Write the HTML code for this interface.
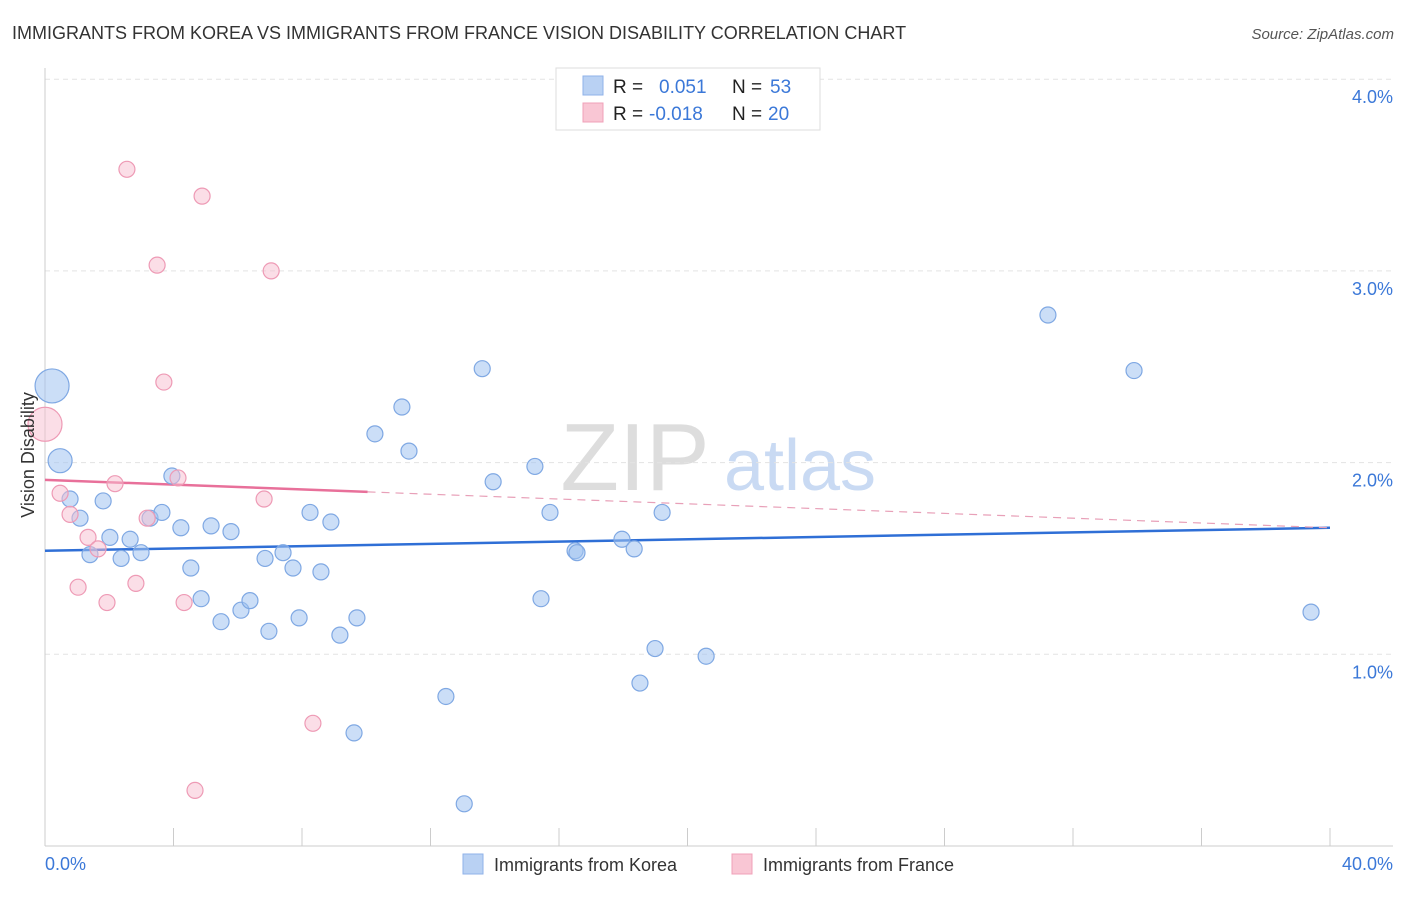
<!DOCTYPE html>
<html><head><meta charset="utf-8"><style>
body{margin:0;background:#fff;font-family:"Liberation Sans",sans-serif;}
svg text{font-family:"Liberation Sans",sans-serif;}
</style></head><body>
<svg id="chart" width="1406" height="892">
<text x="12" y="39" font-size="18" fill="#333">IMMIGRANTS FROM KOREA VS IMMIGRANTS FROM FRANCE VISION DISABILITY CORRELATION CHART</text>
<text x="1394" y="39" font-size="15" fill="#555" font-style="italic" text-anchor="end">Source: ZipAtlas.com</text>
<text x="635" y="490" font-size="96" fill="#ddd" font-family="Liberation Serif" text-anchor="middle">ZIP</text>
<text x="800" y="490" font-size="72" fill="#c9daf3" text-anchor="middle">atlas</text>
<g id="grid"></g><g id="axes"></g><g id="trend"></g><g id="pts"></g>
<text transform="translate(34,455) rotate(-90)" font-size="18" fill="#333" text-anchor="middle">Vision Disability</text>
<text x="45" y="870" font-size="18" fill="#3b78d8">0.0%</text>
<text x="1393" y="870" font-size="18" fill="#3b78d8" text-anchor="end">40.0%</text>
<g>
<rect x="556" y="68" width="264" height="62" fill="#fff" stroke="#ddd"/>
<rect x="583" y="76" width="20" height="19" fill="#b9d1f3" stroke="#8fb2e8"/>
<rect x="583" y="103" width="20" height="19" fill="#f9c6d4" stroke="#f0a0b8"/>
<text x="613" y="93" font-size="19" fill="#222">R =</text><text x="659" y="93" font-size="19" fill="#3b78d8">0.051</text>
<text x="732" y="93" font-size="19" fill="#222">N =</text><text x="770" y="93" font-size="19" fill="#3b78d8">53</text>
<text x="613" y="120" font-size="19" fill="#222">R =</text><text x="649" y="120" font-size="19" fill="#3b78d8">-0.018</text>
<text x="732" y="120" font-size="19" fill="#222">N =</text><text x="768" y="120" font-size="19" fill="#3b78d8">20</text>
</g>
<g>
<rect x="463" y="854" width="20" height="20" fill="#b9d1f3" stroke="#8fb2e8"/>
<text x="494" y="871" font-size="18" fill="#333">Immigrants from Korea</text>
<rect x="732" y="854" width="20" height="20" fill="#f9c6d4" stroke="#f0a0b8"/>
<text x="763" y="871" font-size="18" fill="#333">Immigrants from France</text>
</g>
</svg>
<script>
const koreaX=[0.22,0.47,0.78,1.09,1.40,1.81,2.02,2.37,2.65,2.99,3.27,3.64,3.95,4.23,4.54,4.86,5.17,5.48,5.79,6.10,6.38,6.85,6.97,7.41,7.72,7.91,8.25,8.59,8.90,9.18,9.62,9.71,10.27,11.11,11.33,12.48,13.05,13.61,13.95,15.25,15.44,15.72,16.50,16.56,17.96,18.34,18.52,18.99,19.21,20.58,31.22,33.90,39.41];
const koreaY=[2.40,2.01,1.81,1.71,1.52,1.80,1.61,1.50,1.60,1.53,1.71,1.74,1.93,1.66,1.45,1.29,1.67,1.17,1.64,1.23,1.28,1.50,1.12,1.53,1.45,1.19,1.74,1.43,1.69,1.10,0.59,1.19,2.15,2.29,2.06,0.78,0.22,2.49,1.90,1.98,1.29,1.74,1.54,1.53,1.60,1.55,0.85,1.03,1.74,0.99,2.77,2.48,1.22];
const franceX=[0,0.47,0.78,1.03,1.34,1.65,1.93,2.18,2.55,2.83,3.18,3.49,3.70,4.14,4.33,4.67,4.89,6.82,7.04,8.34];
const franceY=[2.20,1.84,1.73,1.35,1.61,1.55,1.27,1.89,3.53,1.37,1.71,3.03,2.42,1.92,1.27,0.29,3.39,1.81,3.00,0.64];
const yTicks=[1,2,3,4];
const yTickLabels=["1.0%","2.0%","3.0%","4.0%"];
const xTicks=[4,8,12,16,20,24,28,32,36,40];
const koreaTrend=[1.54,1.66];
const franceTrend=[1.91,1.66];
const franceSolidEnd=10.04;
const NS="http://www.w3.org/2000/svg";
const sx=v=>45+v/40*1285, sy=v=>846-v*191.7;
function mk(p,t,a){const e=document.createElementNS(NS,t);for(const k in a)e.setAttribute(k,a[k]);document.getElementById(p).appendChild(e);return e;}
yTicks.forEach((v,i)=>{
 const l=mk('grid','line',{x1:45,x2:1393,y1:sy(v),y2:sy(v),stroke:'#e3e3e3','stroke-dasharray':'5,4'});
 
 
 const t=mk('grid','text',{x:1393,y:sy(v)+24,'font-size':18,fill:'#3b78d8','text-anchor':'end'});t.textContent=yTickLabels[i];
 
 
});
let a=mk('axes','line',{x1:45,x2:45,y1:68,y2:846,stroke:'#ccc'});


a=mk('axes','line',{x1:45,x2:1393,y1:846,y2:846,stroke:'#ccc'});


xTicks.forEach(v=>{const t=mk('axes','line',{x1:sx(v),x2:sx(v),y1:828,y2:846,stroke:'#ccc'});
 
 });
let tl=mk('trend','line',{x1:sx(0),y1:sy(koreaTrend[0]),x2:sx(40),y2:sy(koreaTrend[1]),stroke:'#2f6fd6','stroke-width':2.5});


const fy=x=>franceTrend[0]+(franceTrend[1]-franceTrend[0])*x/40;
tl=mk('trend','line',{x1:sx(0),y1:sy(fy(0)),x2:sx(franceSolidEnd),y2:sy(fy(franceSolidEnd)),stroke:'#e8709a','stroke-width':2.5});


tl=mk('trend','line',{x1:sx(franceSolidEnd),y1:sy(fy(franceSolidEnd)),x2:sx(40),y2:sy(fy(40)),stroke:'#e8a0b8','stroke-width':1.2,'stroke-dasharray':'8,6'});


function pt(x,y,r,f,s,n){const c=mk('pts','circle',{cx:sx(x),cy:sy(y),r:r,fill:f,stroke:s,'stroke-width':1.2});
 
 }
koreaX.forEach((x,i)=>pt(x,koreaY[i],i==0?17:(i==1?12:8),'rgba(160,195,240,0.55)','#7fa8e3','korea-point'));
franceX.forEach((x,i)=>pt(x,franceY[i],i==0?17:8,'rgba(248,190,208,0.5)','#ee9ab5','france-point'));
</script>
</body></html>
